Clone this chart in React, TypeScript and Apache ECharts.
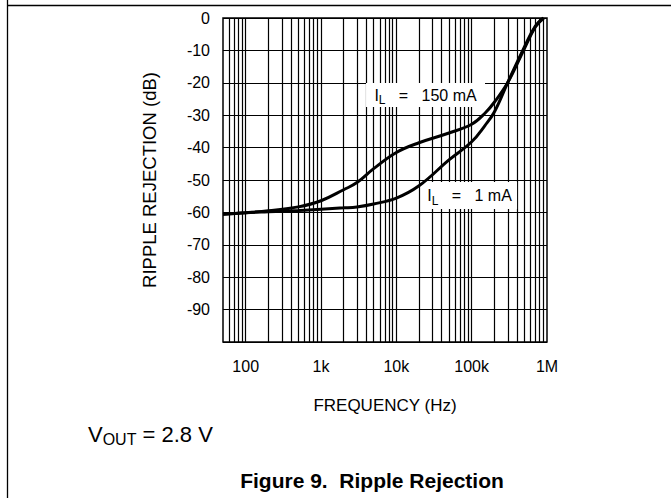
import React, { useEffect, useRef } from "react";
import * as echarts from "echarts";

// Frequency points (Hz)
const freqHz = [50, 100, 200, 500, 1000, 2000, 3000, 5000, 10000, 20000, 50000, 100000, 150000, 200000, 300000, 500000, 700000, 900000];
// Ripple rejection (dB), IL = 150 mA
const rr150mA = [-60.6, -60.1, -59.5, -58.3, -56.4, -53.0, -50.8, -46.5, -41.5, -38.5, -35.5, -32.8, -29.4, -26.0, -20.0, -9.5, -2.8, 0];
// Ripple rejection (dB), IL = 1 mA
const rr1mA = [-60.6, -60.1, -59.8, -59.4, -59.0, -58.6, -58.3, -57.4, -55.6, -51.8, -43.8, -38.2, -33.2, -29.0, -20.0, -9.0, -2.5, 0];

const xTickValues = [100, 1000, 10000, 100000, 1000000];
const xTickLabels = ["100", "1k", "10k", "100k", "1M"];
const yTickValues = [0, -10, -20, -30, -40, -50, -60, -70, -80, -90];
const gridDecades = [10, 100, 1000, 10000, 100000];
const gridMultipliers = [1, 2, 3, 4, 5, 6, 7, 8, 9];

const curveNames = ["150 mA", "1 mA"];
const curveLabelFreq = [24400, 93800];
const curveLabelDb = [-23.8, -54.8];
const curveBoxSize = [[119, 24], [95, 27]];

const FONT = "'Liberation Sans', Arial, Helvetica, sans-serif";
const lg = (v: number) => Math.log10(v);

export default function App() {
  const ref = useRef<HTMLDivElement>(null);

  useEffect(() => {
    const chart = echarts.init(ref.current!, null, { renderer: "svg" });

    const gridFreqs: number[] = [];
    gridDecades.forEach((d) =>
      gridMultipliers.forEach((m) => {
        const f = d * m;
        if (f > 50 && f < 1000000) gridFreqs.push(f);
      })
    );

    const toPts = (vals: number[]) => freqHz.map((f, i) => [lg(f), vals[i]]);

    const labelRich = {
      i: { fontSize: 16, fontFamily: FONT, color: "#000", lineHeight: 22 },
      s: { fontSize: 12, fontFamily: FONT, color: "#000", lineHeight: 13, verticalAlign: "bottom" },
      t: { fontSize: 16, fontFamily: FONT, color: "#000", lineHeight: 22 },
    };

    const curveSeries = (name: string, vals: number[], extra: any = {}) => ({
      type: "line",
      name,
      data: toPts(vals),
      smooth: 0.4,
      showSymbol: false,
      symbol: "none",
      lineStyle: { color: "#000", width: 3 },
      z: 2,
      silent: true,
      emphasis: { disabled: true },
      ...extra,
    });

    chart.setOption({
      animation: false,
      grid: {
        left: 223,
        top: 18,
        width: 324,
        height: 324,
        show: true,
        borderColor: "#000",
        borderWidth: 1.5,
        backgroundColor: "transparent",
      },
      xAxis: {
        type: "value",
        min: lg(50),
        max: 6,
        name: "FREQUENCY (Hz)",
        nameLocation: "middle",
        nameGap: 55,
        nameTextStyle: { fontFamily: FONT, fontSize: 17, color: "#000" },
        axisLine: { show: false },
        axisTick: { show: false },
        splitLine: { show: false },
        axisLabel: {
          customValues: xTickValues.map(lg),
          margin: 16,
          fontFamily: FONT,
          fontSize: 16,
          color: "#000",
          formatter: (v: number) => {
            const i = xTickValues.findIndex((t) => Math.abs(lg(t) - v) < 1e-6);
            return i >= 0 ? xTickLabels[i] : "";
          },
        },
      },
      yAxis: {
        type: "value",
        min: -100,
        max: 0,
        interval: 10,
        name: "RIPPLE REJECTION (dB)",
        nameLocation: "middle",
        nameGap: 64,
        nameTextStyle: { fontFamily: FONT, fontSize: 18.5, color: "#000" },
        axisLine: { show: false },
        axisTick: { show: false },
        splitLine: { show: true, lineStyle: { color: "#000", width: 1.2 } },
        axisLabel: {
          margin: 13,
          fontFamily: FONT,
          fontSize: 16,
          color: "#000",
          formatter: (v: number) => (yTickValues.includes(v) ? String(v) : ""),
        },
      },
      series: [
        curveSeries("IL = 150 mA", rr150mA, {
          markLine: {
            silent: true,
            z: 1,
            symbol: ["none", "none"],
            label: { show: false },
            lineStyle: { color: "#000", width: 1.2, type: "solid" },
            emphasis: { disabled: true },
            data: gridFreqs.map((f) => ({ xAxis: lg(f) })),
          },
          markPoint: {
            silent: true,
            z: 1.5,
            symbol: "rect",
            itemStyle: { color: "#fff" },
            label: {
              show: true,
              position: "inside",
              color: "#000",
              rich: labelRich,
            },
            data: curveNames.map((n, i) => ({
              coord: [lg(curveLabelFreq[i]), curveLabelDb[i]],
              symbolSize: curveBoxSize[i],
              label: { formatter: `{i|I}{s|L}{t|   =   ${n}}` },
            })),
          },
        }),
        curveSeries("IL = 1 mA", rr1mA),
      ],
      graphic: [
        { type: "line", shape: { x1: 7.5, y1: 0, x2: 7.5, y2: 498 }, style: { stroke: "#000", lineWidth: 1.3 } },
        { type: "line", shape: { x1: 7, y1: 5.5, x2: 671, y2: 5.5 }, style: { stroke: "#000", lineWidth: 1.3 } },
        {
          type: "text",
          left: 88,
          top: 423,
          style: {
            text: "{v|V}{s|OUT}{v| = 2.8 V}",
            rich: {
              v: { fontSize: 22, fontFamily: FONT, fill: "#000", lineHeight: 26 },
              s: { fontSize: 16, fontFamily: FONT, fill: "#000", lineHeight: 17, verticalAlign: "bottom" },
            },
          },
        },
        {
          type: "text",
          x: 372,
          y: 480,
          style: {
            text: "Figure 9.  Ripple Rejection",
            fontSize: 21,
            fontWeight: "bold",
            fontFamily: FONT,
            fill: "#000",
            align: "center",
            verticalAlign: "middle",
          },
        },
      ],
    });

    return () => chart.dispose();
  }, []);

  return (
    <div
      ref={ref}
      style={{ position: "absolute", left: 0, top: 0, width: 671, height: 498, background: "#fff" }}
    />
  );
}
